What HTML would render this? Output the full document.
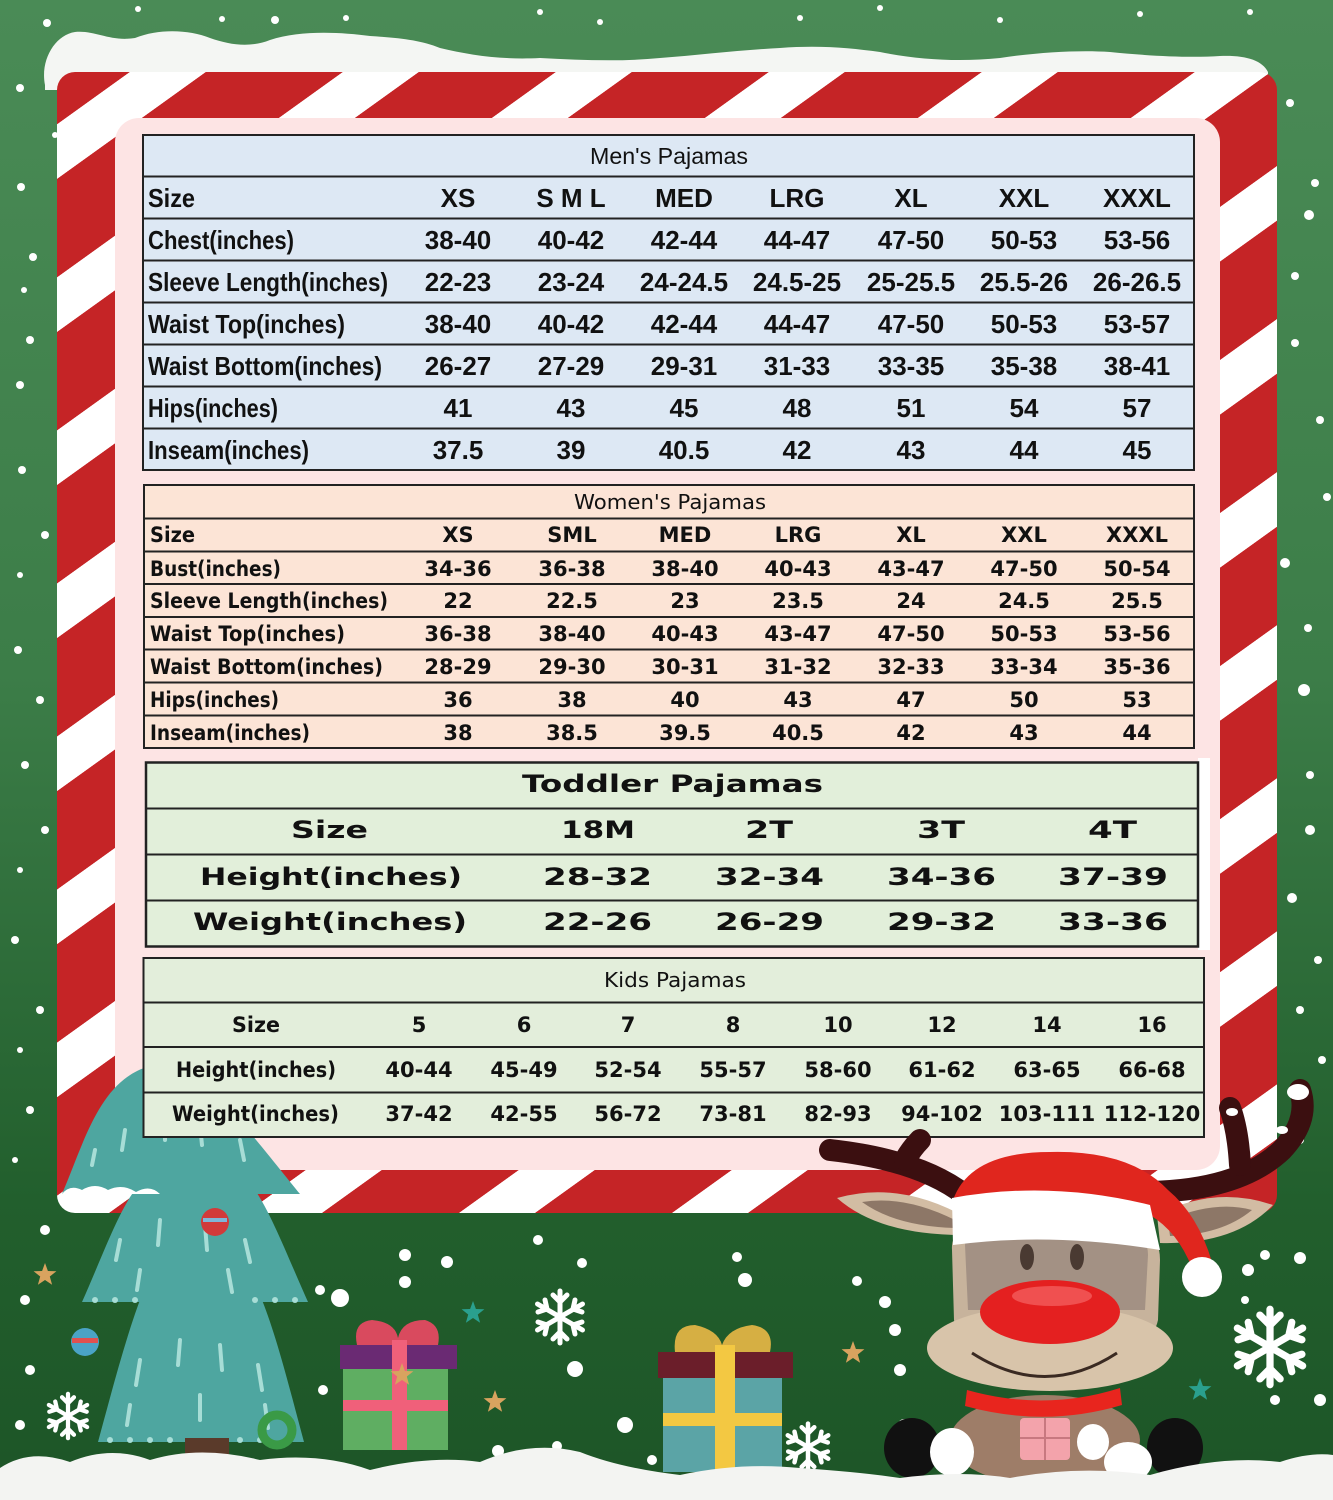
<!DOCTYPE html>
<html><head><meta charset="utf-8"><style>
html,body{margin:0;padding:0;background:#2f7040;}
svg{display:block;}
.m{font-family:"Liberation Sans",sans-serif;font-weight:bold;font-size:26px;fill:#111;}
.w{font-family:"DejaVu Sans",sans-serif;font-weight:bold;font-size:21px;fill:#111;}
.t{font-family:"DejaVu Sans",sans-serif;font-weight:bold;font-size:24px;fill:#111;}
.k{font-family:"DejaVu Sans",sans-serif;font-weight:bold;font-size:21px;fill:#111;}
.ti{font-family:"DejaVu Sans",sans-serif;font-weight:normal;font-size:20px;fill:#111;}
</style></head><body>
<svg width="1333" height="1500" viewBox="0 0 1333 1500" xmlns="http://www.w3.org/2000/svg">
<defs>
<linearGradient id="bg" x1="0" y1="0" x2="0" y2="1">
<stop offset="0" stop-color="#4a8b56"/><stop offset="0.45" stop-color="#3c7d48"/><stop offset="0.8" stop-color="#225f2d"/><stop offset="1" stop-color="#1d5527"/>
</linearGradient>
<pattern id="cane" patternUnits="userSpaceOnUse" width="213" height="10" patternTransform="skewX(-54.3)">
<rect x="0" y="0" width="213" height="10" fill="#ffffff"/>
<rect x="93" y="0" width="120" height="10" fill="#c52426"/>
<rect x="0" y="0" width="17" height="10" fill="#c52426"/>
</pattern>
<polygon id="star" points="0,-12 2.9,-4 11.4,-3.7 4.8,1.5 7.1,9.7 0,5 -7.1,9.7 -4.8,1.5 -11.4,-3.7 -2.9,-4"/>
<g id="flake" stroke="#fff" stroke-width="5" stroke-linecap="round" fill="none">
<line x1="0" y1="-26" x2="0" y2="26"/><line x1="-22.5" y1="-13" x2="22.5" y2="13"/><line x1="-22.5" y1="13" x2="22.5" y2="-13"/>
<path d="M-7,-22 L0,-15 L7,-22 M-7,22 L0,15 L7,22 M-22,-5 L-13,-8 L-15,-17 M22,5 L13,8 L15,17 M-22,5 L-13,8 L-15,17 M22,-5 L13,-8 L15,-17"/>
</g>
</defs>

<!-- background -->
<rect x="0" y="0" width="1333" height="1500" fill="url(#bg)"/>

<!-- snow dots -->
<g fill="#fff">
<circle cx="47" cy="23" r="4"/><circle cx="138" cy="9" r="3"/><circle cx="222" cy="19" r="3"/><circle cx="275" cy="20" r="4"/><circle cx="346" cy="18" r="3"/>
<circle cx="540" cy="12" r="3"/><circle cx="600" cy="22" r="3"/><circle cx="800" cy="18" r="3"/><circle cx="880" cy="8" r="3"/><circle cx="1000" cy="20" r="3"/><circle cx="1140" cy="14" r="3"/><circle cx="1250" cy="12" r="3"/>
<circle cx="20" cy="88" r="4"/><circle cx="55" cy="135" r="3"/><circle cx="21" cy="187" r="4"/><circle cx="33" cy="257" r="4"/><circle cx="24" cy="290" r="3"/>
<circle cx="30" cy="340" r="4"/><circle cx="20" cy="385" r="4"/><circle cx="22" cy="470" r="4"/><circle cx="45" cy="535" r="4"/><circle cx="20" cy="575" r="3"/>
<circle cx="18" cy="650" r="4"/><circle cx="40" cy="700" r="4"/><circle cx="25" cy="765" r="4"/><circle cx="45" cy="830" r="4"/><circle cx="20" cy="870" r="3"/>
<circle cx="15" cy="940" r="4"/><circle cx="40" cy="1010" r="4"/><circle cx="20" cy="1050" r="3"/><circle cx="30" cy="1110" r="4"/><circle cx="15" cy="1160" r="3"/>
<circle cx="1290" cy="103" r="4"/><circle cx="1315" cy="183" r="4"/><circle cx="1309" cy="215" r="5"/><circle cx="1295" cy="276" r="4"/><circle cx="1295" cy="343" r="4"/>
<circle cx="1320" cy="420" r="4"/><circle cx="1327" cy="497" r="4"/><circle cx="1285" cy="563" r="5"/><circle cx="1308" cy="628" r="4"/><circle cx="1304" cy="690" r="6"/>
<circle cx="1310" cy="775" r="4"/><circle cx="1310" cy="830" r="5"/><circle cx="1292" cy="898" r="5"/><circle cx="1318" cy="960" r="4"/><circle cx="1300" cy="1010" r="4"/><circle cx="1322" cy="1060" r="4"/><circle cx="1300" cy="1140" r="4"/>
<circle cx="45" cy="1230" r="5"/><circle cx="25" cy="1300" r="5"/><circle cx="30" cy="1370" r="5"/><circle cx="20" cy="1425" r="5"/>
<circle cx="320" cy="1290" r="5"/><circle cx="340" cy="1298" r="9"/><circle cx="405" cy="1255" r="6"/><circle cx="447" cy="1262" r="6"/><circle cx="405" cy="1282" r="6"/>
<circle cx="538" cy="1240" r="5"/><circle cx="582" cy="1263" r="5"/><circle cx="737" cy="1257" r="5"/><circle cx="745" cy="1280" r="7"/><circle cx="575" cy="1369" r="8"/>
<circle cx="625" cy="1425" r="8"/><circle cx="498" cy="1451" r="6"/><circle cx="557" cy="1446" r="5"/><circle cx="323" cy="1390" r="5"/><circle cx="652" cy="1460" r="5"/>
<circle cx="857" cy="1281" r="5"/><circle cx="885" cy="1302" r="6"/><circle cx="895" cy="1330" r="6"/><circle cx="900" cy="1370" r="6"/><circle cx="904" cy="1425" r="6"/>
<circle cx="1265" cy="1255" r="5"/><circle cx="1300" cy="1258" r="6"/><circle cx="1248" cy="1270" r="6"/><circle cx="1275" cy="1400" r="5"/><circle cx="1320" cy="1400" r="6"/><circle cx="1245" cy="1300" r="4"/>
</g>

<!-- top snow -->
<path d="M45,85 C40,60 55,35 75,32 C95,30 110,42 135,38 C160,28 190,30 210,38 C230,45 250,48 270,40 C300,30 340,32 370,36 C400,38 420,40 440,48 C470,55 500,60 540,58 C580,60 620,62 660,58 C700,55 740,50 780,48 C820,45 850,48 880,52 C920,60 960,62 1000,58 C1040,52 1080,50 1110,52 C1150,56 1190,58 1220,56 C1245,55 1262,60 1268,72 L1268,90 L45,90 Z" fill="#f4f6f3"/>

<!-- candy cane frame -->
<rect x="57" y="72" width="1220" height="1141" rx="18" fill="url(#cane)"/>
<!-- pink panel -->
<rect x="115" y="118" width="1105" height="1052" rx="24" fill="#fde4e4"/>

<!-- tree (behind tables) -->
<g>
<path d="M62,1194 C85,1140 100,1080 150,1066 L200,1076 C250,1130 280,1170 300,1194 Z" fill="#4ea6a0"/>
<path d="M82,1302 C100,1262 118,1212 135,1190 L255,1190 C272,1215 290,1262 308,1302 Z" fill="#4ea6a0"/>
<path d="M62,1194 Q70,1184 82,1190 Q95,1182 108,1190 Q122,1183 136,1192 Q150,1184 160,1194 Z" fill="#fff"/>
<path d="M98,1442 C110,1398 125,1340 140,1300 L262,1300 C278,1340 292,1398 304,1442 Z" fill="#4ea6a0"/>
<rect x="185" y="1438" width="44" height="42" fill="#5a3a2a"/>
<g stroke="#a7ddd6" stroke-width="4" stroke-linecap="round">
<line x1="95" y1="1150" x2="92" y2="1165"/><line x1="125" y1="1130" x2="122" y2="1150"/><line x1="165" y1="1120" x2="165" y2="1140"/><line x1="200" y1="1125" x2="202" y2="1145"/><line x1="240" y1="1140" x2="244" y2="1160"/>
<line x1="120" y1="1240" x2="116" y2="1260"/><line x1="160" y1="1220" x2="158" y2="1245"/><line x1="205" y1="1225" x2="207" y2="1250"/><line x1="245" y1="1240" x2="250" y2="1262"/><line x1="140" y1="1270" x2="137" y2="1290"/><line x1="228" y1="1270" x2="232" y2="1292"/>
<line x1="140" y1="1360" x2="136" y2="1385"/><line x1="180" y1="1340" x2="178" y2="1365"/><line x1="220" y1="1345" x2="222" y2="1370"/><line x1="258" y1="1365" x2="262" y2="1390"/><line x1="130" y1="1405" x2="127" y2="1425"/><line x1="200" y1="1395" x2="200" y2="1420"/><line x1="265" y1="1405" x2="268" y2="1428"/>
</g>
<g fill="#a7ddd6">
<circle cx="95" cy="1300" r="3"/><circle cx="115" cy="1300" r="3"/><circle cx="135" cy="1300" r="3"/><circle cx="255" cy="1300" r="3"/><circle cx="275" cy="1300" r="3"/><circle cx="295" cy="1300" r="3"/>
<circle cx="110" cy="1440" r="3"/><circle cx="130" cy="1440" r="3"/><circle cx="150" cy="1440" r="3"/><circle cx="170" cy="1440" r="3"/><circle cx="240" cy="1440" r="3"/><circle cx="260" cy="1440" r="3"/>
</g>
<circle cx="215" cy="1222" r="14" fill="#d23a3a"/><rect x="203" y="1218" width="24" height="4" fill="#7fb6d8"/>
<circle cx="85" cy="1342" r="14" fill="#4aa3c6"/><rect x="72" y="1338" width="26" height="5" fill="#e05050"/>
<circle cx="277" cy="1430" r="15" fill="none" stroke="#3a9a46" stroke-width="9"/>
</g>

<!-- MEN'S TABLE -->
<rect x="143" y="135" width="1051" height="335" fill="#dde8f4" stroke="#222" stroke-width="2"/>
<g stroke="#222" stroke-width="2">
<line x1="143" y1="176.5" x2="1194" y2="176.5"/><line x1="143" y1="218.5" x2="1194" y2="218.5"/><line x1="143" y1="260.5" x2="1194" y2="260.5"/>
<line x1="143" y1="302.5" x2="1194" y2="302.5"/><line x1="143" y1="344.5" x2="1194" y2="344.5"/><line x1="143" y1="386.5" x2="1194" y2="386.5"/><line x1="143" y1="428.5" x2="1194" y2="428.5"/>
</g>
<text class="m" x="590" y="164" textLength="158" lengthAdjust="spacingAndGlyphs" style="font-weight:normal;font-size:23px">Men's Pajamas</text>
<g class="m">
<text x="148" y="207" textLength="47" lengthAdjust="spacingAndGlyphs">Size</text>
<text x="148" y="249" textLength="146" lengthAdjust="spacingAndGlyphs">Chest(inches)</text>
<text x="148" y="291" textLength="240" lengthAdjust="spacingAndGlyphs">Sleeve Length(inches)</text>
<text x="148" y="333" textLength="197" lengthAdjust="spacingAndGlyphs">Waist Top(inches)</text>
<text x="148" y="375" textLength="234" lengthAdjust="spacingAndGlyphs">Waist Bottom(inches)</text>
<text x="148" y="417" textLength="130" lengthAdjust="spacingAndGlyphs">Hips(inches)</text>
<text x="148" y="459" textLength="161" lengthAdjust="spacingAndGlyphs">Inseam(inches)</text>
</g>
<g class="m" text-anchor="middle">
<text x="458" y="207">XS</text><text x="571" y="207">S M L</text><text x="684" y="207">MED</text><text x="797" y="207">LRG</text><text x="911" y="207">XL</text><text x="1024" y="207">XXL</text><text x="1137" y="207">XXXL</text>
<text x="458" y="249">38-40</text><text x="571" y="249">40-42</text><text x="684" y="249">42-44</text><text x="797" y="249">44-47</text><text x="911" y="249">47-50</text><text x="1024" y="249">50-53</text><text x="1137" y="249">53-56</text>
<text x="458" y="291">22-23</text><text x="571" y="291">23-24</text><text x="684" y="291">24-24.5</text><text x="797" y="291">24.5-25</text><text x="911" y="291">25-25.5</text><text x="1024" y="291">25.5-26</text><text x="1137" y="291">26-26.5</text>
<text x="458" y="333">38-40</text><text x="571" y="333">40-42</text><text x="684" y="333">42-44</text><text x="797" y="333">44-47</text><text x="911" y="333">47-50</text><text x="1024" y="333">50-53</text><text x="1137" y="333">53-57</text>
<text x="458" y="375">26-27</text><text x="571" y="375">27-29</text><text x="684" y="375">29-31</text><text x="797" y="375">31-33</text><text x="911" y="375">33-35</text><text x="1024" y="375">35-38</text><text x="1137" y="375">38-41</text>
<text x="458" y="417">41</text><text x="571" y="417">43</text><text x="684" y="417">45</text><text x="797" y="417">48</text><text x="911" y="417">51</text><text x="1024" y="417">54</text><text x="1137" y="417">57</text>
<text x="458" y="459">37.5</text><text x="571" y="459">39</text><text x="684" y="459">40.5</text><text x="797" y="459">42</text><text x="911" y="459">43</text><text x="1024" y="459">44</text><text x="1137" y="459">45</text>
</g>

<!-- WOMEN'S TABLE -->
<rect x="144" y="485" width="1050" height="263" fill="#fce4d6" stroke="#222" stroke-width="2"/>
<g stroke="#222" stroke-width="2">
<line x1="144" y1="518.5" x2="1194" y2="518.5"/><line x1="144" y1="551.5" x2="1194" y2="551.5"/><line x1="144" y1="584" x2="1194" y2="584"/>
<line x1="144" y1="617" x2="1194" y2="617"/><line x1="144" y1="649.5" x2="1194" y2="649.5"/><line x1="144" y1="682.5" x2="1194" y2="682.5"/><line x1="144" y1="715.5" x2="1194" y2="715.5"/>
</g>
<text class="ti" x="574" y="509" textLength="192" lengthAdjust="spacingAndGlyphs">Women's Pajamas</text>
<g class="w">
<text x="150" y="542" textLength="45" lengthAdjust="spacingAndGlyphs">Size</text>
<text x="150" y="576" textLength="131" lengthAdjust="spacingAndGlyphs">Bust(inches)</text>
<text x="150" y="608" textLength="238" lengthAdjust="spacingAndGlyphs">Sleeve Length(inches)</text>
<text x="150" y="641" textLength="195" lengthAdjust="spacingAndGlyphs">Waist Top(inches)</text>
<text x="150" y="674" textLength="233" lengthAdjust="spacingAndGlyphs">Waist Bottom(inches)</text>
<text x="150" y="707" textLength="129" lengthAdjust="spacingAndGlyphs">Hips(inches)</text>
<text x="150" y="740" textLength="160" lengthAdjust="spacingAndGlyphs">Inseam(inches)</text>
</g>
<g class="w" text-anchor="middle">
<text x="458" y="542">XS</text><text x="572" y="542">SML</text><text x="685" y="542">MED</text><text x="798" y="542">LRG</text><text x="911" y="542">XL</text><text x="1024" y="542">XXL</text><text x="1137" y="542">XXXL</text>
<text x="458" y="576">34-36</text><text x="572" y="576">36-38</text><text x="685" y="576">38-40</text><text x="798" y="576">40-43</text><text x="911" y="576">43-47</text><text x="1024" y="576">47-50</text><text x="1137" y="576">50-54</text>
<text x="458" y="608">22</text><text x="572" y="608">22.5</text><text x="685" y="608">23</text><text x="798" y="608">23.5</text><text x="911" y="608">24</text><text x="1024" y="608">24.5</text><text x="1137" y="608">25.5</text>
<text x="458" y="641">36-38</text><text x="572" y="641">38-40</text><text x="685" y="641">40-43</text><text x="798" y="641">43-47</text><text x="911" y="641">47-50</text><text x="1024" y="641">50-53</text><text x="1137" y="641">53-56</text>
<text x="458" y="674">28-29</text><text x="572" y="674">29-30</text><text x="685" y="674">30-31</text><text x="798" y="674">31-32</text><text x="911" y="674">32-33</text><text x="1024" y="674">33-34</text><text x="1137" y="674">35-36</text>
<text x="458" y="707">36</text><text x="572" y="707">38</text><text x="685" y="707">40</text><text x="798" y="707">43</text><text x="911" y="707">47</text><text x="1024" y="707">50</text><text x="1137" y="707">53</text>
<text x="458" y="740">38</text><text x="572" y="740">38.5</text><text x="685" y="740">39.5</text><text x="798" y="740">40.5</text><text x="911" y="740">42</text><text x="1024" y="740">43</text><text x="1137" y="740">44</text>
</g>

<!-- TODDLER TABLE -->
<rect x="1198" y="758" width="12" height="192" fill="#fff"/>
<rect x="146" y="762.5" width="1052" height="184" fill="#e2efda" stroke="#222" stroke-width="2.5"/>
<g stroke="#222" stroke-width="2">
<line x1="146" y1="808.5" x2="1198" y2="808.5"/><line x1="146" y1="854.5" x2="1198" y2="854.5"/><line x1="146" y1="900.5" x2="1198" y2="900.5"/>
</g>
<g class="t">
<text x="522" y="792" textLength="301" lengthAdjust="spacingAndGlyphs">Toddler Pajamas</text>
<text x="291" y="838" textLength="77" lengthAdjust="spacingAndGlyphs">Size</text>
<text x="561" y="838" textLength="74" lengthAdjust="spacingAndGlyphs">18M</text>
<text x="745" y="838" textLength="48" lengthAdjust="spacingAndGlyphs">2T</text>
<text x="917" y="838" textLength="48" lengthAdjust="spacingAndGlyphs">3T</text>
<text x="1088" y="838" textLength="49" lengthAdjust="spacingAndGlyphs">4T</text>
<text x="200" y="885" textLength="262" lengthAdjust="spacingAndGlyphs">Height(inches)</text>
<text x="543" y="885" textLength="109" lengthAdjust="spacingAndGlyphs">28-32</text>
<text x="715" y="885" textLength="109" lengthAdjust="spacingAndGlyphs">32-34</text>
<text x="887" y="885" textLength="109" lengthAdjust="spacingAndGlyphs">34-36</text>
<text x="1058" y="885" textLength="110" lengthAdjust="spacingAndGlyphs">37-39</text>
<text x="193" y="930" textLength="274" lengthAdjust="spacingAndGlyphs">Weight(inches)</text>
<text x="543" y="930" textLength="109" lengthAdjust="spacingAndGlyphs">22-26</text>
<text x="715" y="930" textLength="109" lengthAdjust="spacingAndGlyphs">26-29</text>
<text x="887" y="930" textLength="109" lengthAdjust="spacingAndGlyphs">29-32</text>
<text x="1058" y="930" textLength="110" lengthAdjust="spacingAndGlyphs">33-36</text>
</g>

<!-- KIDS TABLE -->
<rect x="143.5" y="958" width="1060.5" height="179" fill="#e3eedb" stroke="#222" stroke-width="2"/>
<g stroke="#222" stroke-width="2">
<line x1="143.5" y1="1002.5" x2="1204" y2="1002.5"/><line x1="143.5" y1="1047" x2="1204" y2="1047"/><line x1="143.5" y1="1092.5" x2="1204" y2="1092.5"/>
</g>
<text class="ti" x="604" y="987" textLength="142" lengthAdjust="spacingAndGlyphs">Kids Pajamas</text>
<g class="k">
<text x="232" y="1032" textLength="48" lengthAdjust="spacingAndGlyphs">Size</text>
<text x="176" y="1077" textLength="160" lengthAdjust="spacingAndGlyphs">Height(inches)</text>
<text x="172" y="1121" textLength="167" lengthAdjust="spacingAndGlyphs">Weight(inches)</text>
</g>
<g class="k" text-anchor="middle">
<text x="419" y="1032">5</text><text x="524" y="1032">6</text><text x="628" y="1032">7</text><text x="733" y="1032">8</text><text x="838" y="1032">10</text><text x="942" y="1032">12</text><text x="1047" y="1032">14</text><text x="1152" y="1032">16</text>
<text x="419" y="1077">40-44</text><text x="524" y="1077">45-49</text><text x="628" y="1077">52-54</text><text x="733" y="1077">55-57</text><text x="838" y="1077">58-60</text><text x="942" y="1077">61-62</text><text x="1047" y="1077">63-65</text><text x="1152" y="1077">66-68</text>
<text x="419" y="1121">37-42</text><text x="524" y="1121">42-55</text><text x="628" y="1121">56-72</text><text x="733" y="1121">73-81</text><text x="838" y="1121">82-93</text><text x="942" y="1121">94-102</text><text x="1047" y="1121">103-111</text><text x="1152" y="1121">112-120</text>
</g>

<!-- gifts -->
<path d="M357,1345 Q352,1322 372,1320 Q395,1322 398,1338 Q402,1320 425,1320 Q442,1325 438,1345 Z" fill="#d94a5e"/>
<rect x="343" y="1368" width="105" height="82" fill="#5fae62"/>
<rect x="340" y="1345" width="117" height="24" fill="#6a2a73"/>
<rect x="392" y="1340" width="15" height="110" fill="#f0607a"/>
<rect x="343" y="1400" width="105" height="11" fill="#f0607a"/>
<use href="#star" x="402" y="1375" fill="#d9a35f"/>
<path d="M675,1352 Q672,1325 695,1325 Q718,1330 722,1345 Q728,1328 752,1325 Q775,1328 770,1352 Z" fill="#d6af43"/>
<rect x="663" y="1377" width="119" height="95" fill="#5ba4a6"/>
<rect x="658" y="1352" width="135" height="26" fill="#6b1e2a"/>
<rect x="715" y="1345" width="20" height="127" fill="#f3c842"/>
<rect x="663" y="1413" width="119" height="13" fill="#f3c842"/>

<!-- stars -->
<use href="#star" x="45" y="1275" fill="#d9a35f"/>
<use href="#star" x="495" y="1402" fill="#d9a35f"/>
<use href="#star" x="853" y="1353" fill="#d9a35f"/>
<use href="#star" x="473" y="1313" fill="#2aa08e"/>
<use href="#star" x="1200" y="1390" fill="#2aa08e"/>

<!-- snowflakes -->
<use href="#flake" transform="translate(560,1317)"/>
<use href="#flake" transform="translate(1270,1347) scale(1.45)"/>
<use href="#flake" transform="translate(68,1416) scale(0.85)"/>
<use href="#flake" transform="translate(808,1447) scale(0.9)"/>

<!-- reindeer -->
<g stroke="#3b0f10" stroke-width="22" stroke-linecap="round" fill="none">
<path d="M1150,1192 Q1240,1190 1282,1150 Q1310,1120 1300,1090"/>
<path d="M1240,1165 Q1238,1130 1230,1108"/>
<path d="M965,1195 Q920,1160 830,1150"/>
<path d="M905,1160 Q912,1148 920,1140"/>
</g>
<ellipse cx="1298" cy="1092" rx="11" ry="8" fill="#fff"/><ellipse cx="1282" cy="1130" rx="6" ry="4" fill="#fff"/><ellipse cx="1232" cy="1112" rx="6" ry="4" fill="#fff"/>
<path d="M967,1218 Q900,1180 837,1198 Q880,1236 967,1235 Z" fill="#d2bca3"/>
<path d="M955,1220 Q905,1195 862,1202 Q895,1226 955,1228 Z" fill="#8d7767"/>
<path d="M1157,1215 Q1215,1185 1273,1205 Q1235,1245 1160,1243 Z" fill="#d2bca3"/>
<path d="M1168,1220 Q1215,1200 1252,1210 Q1222,1235 1170,1236 Z" fill="#8d7767"/>
<ellipse cx="1045" cy="1440" rx="95" ry="45" fill="#9e7d68"/>
<path d="M952,1250 Q950,1225 990,1222 L1120,1222 Q1160,1225 1160,1260 L1158,1320 Q1150,1360 1055,1362 Q960,1360 954,1320 Z" fill="#c7b39c"/>
<path d="M965,1245 Q965,1232 990,1232 L1120,1232 Q1148,1232 1148,1255 L1145,1310 L968,1310 Z" fill="#a39184"/>
<ellipse cx="1050" cy="1348" rx="123" ry="43" fill="#d8c4aa"/>
<ellipse cx="1027" cy="1257" rx="7" ry="13" fill="#4a3a32"/>
<ellipse cx="1077" cy="1257" rx="7" ry="13" fill="#4a3a32"/>
<ellipse cx="1050" cy="1312" rx="70" ry="32" fill="#e42020"/>
<ellipse cx="1052" cy="1296" rx="40" ry="10" fill="#f05050"/>
<path d="M972,1353 Q1045,1400 1117,1353" stroke="#3a2a22" stroke-width="3" fill="none"/>
<path d="M953,1200 Q970,1152 1050,1152 Q1130,1150 1168,1190 Q1198,1215 1212,1262 L1192,1268 Q1178,1232 1150,1215 Z" fill="#e0261e"/>
<path d="M952,1198 Q1050,1180 1150,1205 L1160,1250 Q1050,1232 953,1245 Z" fill="#ffffff"/>
<circle cx="1202" cy="1277" r="20" fill="#ffffff"/>
<path d="M967,1390 Q1045,1412 1120,1388 L1122,1405 Q1045,1428 965,1406 Z" fill="#e8251e"/>
<ellipse cx="912" cy="1448" rx="28" ry="30" fill="#111"/>
<ellipse cx="1175" cy="1448" rx="28" ry="30" fill="#111"/>
<ellipse cx="952" cy="1452" rx="22" ry="24" fill="#fff"/>
<ellipse cx="1093" cy="1442" rx="16" ry="18" fill="#fff"/>
<ellipse cx="1128" cy="1462" rx="24" ry="20" fill="#fff"/>
<rect x="1020" y="1418" width="50" height="42" rx="4" fill="#f3a3ab"/>
<line x1="1045" y1="1418" x2="1045" y2="1460" stroke="#c87880" stroke-width="2"/>
<line x1="1020" y1="1438" x2="1070" y2="1438" stroke="#c87880" stroke-width="2"/>

<!-- bottom snow -->
<path d="M0,1468 Q30,1448 70,1462 Q110,1445 150,1460 Q200,1445 260,1460 Q320,1452 370,1470 Q430,1455 480,1462 Q530,1440 580,1452 Q620,1468 680,1475 Q740,1462 800,1468 Q860,1472 900,1478 Q960,1470 1010,1478 Q1080,1465 1150,1475 Q1220,1455 1280,1462 Q1310,1452 1333,1455 L1333,1500 L0,1500 Z" fill="#f3f4f2"/>
</svg>
</body></html>
